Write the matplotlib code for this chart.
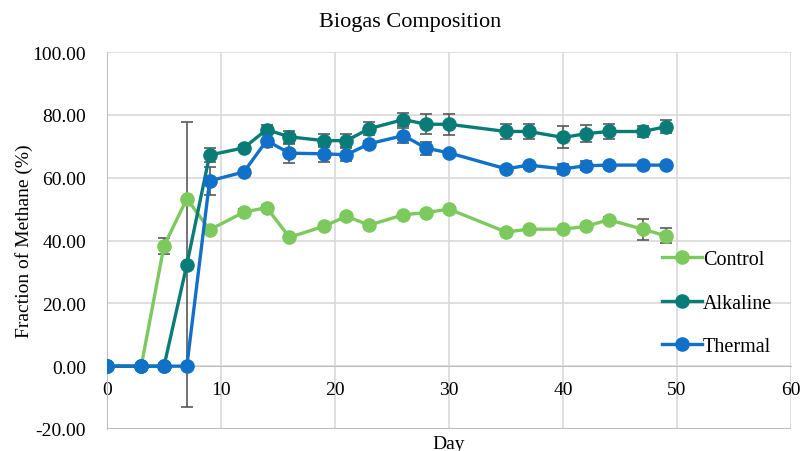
import matplotlib.pyplot as plt
import numpy as np

plt.rcParams['font.family'] = ['Liberation Serif', 'DejaVu Serif']

days = [0, 3, 5, 7, 9, 12, 14, 16, 19, 21, 23, 26, 28, 30, 35, 37, 40, 42, 44, 47, 49]

control = [0, 0, 38.3, 53.3, 43.4, 49.0, 50.5, 41.0, 44.5, 47.7, 44.9, 48.2, 48.9, 50.0,
           42.7, 43.6, 43.6, 44.5, 46.6, 43.6, 41.5]
control_err = [0, 0, 2.5, 0, 0, 1.0, 0.8, 0, 0.8, 0.5, 0, 0.5, 0.5, 0,
               0, 0, 0.6, 0.6, 1.0, 3.3, 2.4]

alkaline = [0, 0, 0, 32.3, 67.2, 69.5, 75.3, 73.0, 71.8, 71.8, 75.6, 78.5, 77.0, 77.0,
            74.7, 74.7, 72.8, 74.0, 74.7, 74.7, 76.2]
alkaline_err = [0, 0, 0, 45.3, 2.2, 0.8, 1.5, 2.0, 2.1, 2.1, 2.1, 2.2, 3.2, 3.4,
                2.5, 2.5, 3.5, 2.7, 2.5, 1.9, 2.1]

thermal = [0, 0, 0, 0, 59.0, 61.8, 71.8, 67.8, 67.6, 67.3, 70.8, 73.4, 69.4, 67.9,
           62.8, 64.0, 62.8, 63.8, 64.0, 64.0, 64.0]
thermal_err = [0, 0, 0, 0, 4.5, 0.8, 2.0, 3.0, 2.7, 2.1, 0.8, 2.3, 2.1, 0,
               0, 0, 1.6, 1.4, 0, 0, 0]

series = [('Control', control, control_err, '#7cc95e'),
          ('Alkaline', alkaline, alkaline_err, '#0a7c78'),
          ('Thermal', thermal, thermal_err, '#1170c8')]

fig = plt.figure(figsize=(8.01, 4.52), dpi=100)
ax = fig.add_axes([0.1336, 0.0487, 0.854, 0.834])

for name, vals, err, col in series:
    ax.errorbar(days, vals, yerr=err, fmt='none', ecolor='#595959', elinewidth=1.2,
                capsize=4, capthick=1.2, zorder=3)
    ax.plot(days, vals, color=col, lw=2.4, marker='o', ms=9.5, label=name, zorder=4)

ax.set_xlim(0, 60)
ax.set_ylim(-20, 100)
ax.set_xticks(np.arange(0, 61, 10))
ax.set_yticks(np.arange(-20, 101, 20))
ax.set_yticklabels(['%.2f' % v for v in np.arange(-20, 101, 20)])
ax.grid(True, color='#d9d9d9', lw=1.2, zorder=0)
ax.set_axisbelow(True)

for s in ['top', 'right']:
    ax.spines[s].set_visible(False)
ax.spines['left'].set_color('#bfbfbf')
ax.spines['bottom'].set_position(('data', 0))
ax.spines['bottom'].set_color('#bfbfbf')
ax.axhline(-20, color='#bfbfbf', lw=1.5, zorder=1)
ax.tick_params(length=0, labelsize=14, colors='black')
ax.tick_params(axis='x', pad=11)
ax.tick_params(axis='y', pad=15)

fig.text(0.512, 0.95, 'Biogas Composition', ha='center', va='center', fontsize=16)
ax.set_ylabel('Fraction of Methane (%)', fontsize=14, labelpad=0)
ax.text(30, -24.5, 'Day', ha='center', va='center', fontsize=14)

ax.legend(loc='center left', bbox_to_anchor=(0.811, 0.334), frameon=False, fontsize=14.5,
          labelspacing=1.2, handlelength=2.0, handletextpad=0.05, borderaxespad=0,
          borderpad=0)

fig.savefig('out.png', dpi=100)
